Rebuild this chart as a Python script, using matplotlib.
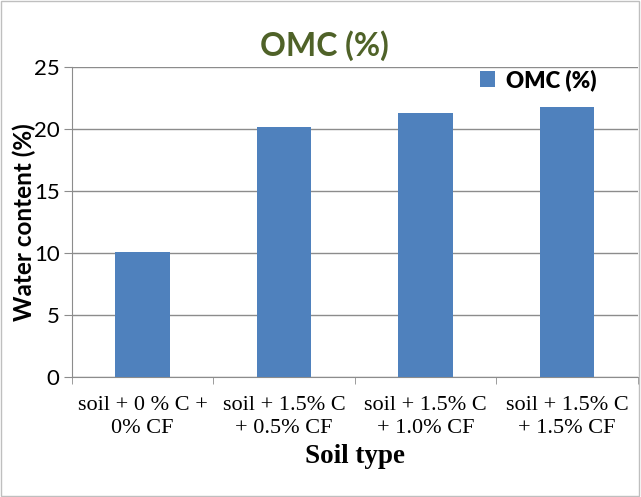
import matplotlib
matplotlib.use("Agg")
import matplotlib.pyplot as plt
from matplotlib.patches import Rectangle

CATEGORIES = [
    "soil + 0 % C +\n0% CF",
    "soil + 1.5% C\n+ 0.5% CF",
    "soil + 1.5% C\n+ 1.0% CF",
    "soil + 1.5% C\n+ 1.5% CF",
]
OMC = [10.1, 20.2, 21.3, 21.8]
Y_TICKS = [0, 5, 10, 15, 20, 25]

BAR_COLOR = "#4F81BD"
GRID_COLOR = "#8C8C8C"
TITLE_COLOR = "#4F6228"

fig = plt.figure(figsize=(6.41, 4.97), dpi=100)
fig.patches.append(Rectangle((0.002, 0.002), 0.995, 0.995, transform=fig.transFigure,
                             fill=False, edgecolor="#BFBFBF", linewidth=1.0))
ax = fig.add_axes([0.1123, 0.2414, 0.883, 0.6238])

x = range(len(CATEGORIES))
ax.bar(x, OMC, width=0.385, color=BAR_COLOR, label="OMC (%)", zorder=3)

ax.set_xlim(-0.5, len(CATEGORIES) - 0.5)
ax.set_ylim(0, 25)
ax.set_yticks(Y_TICKS)
ax.set_yticklabels([str(t) for t in Y_TICKS], fontfamily="Lato", fontsize=16)
ax.set_xticks(list(x))
ax.set_xticklabels(CATEGORIES, fontfamily="Liberation Serif", fontsize=16, linespacing=1.25)
ax.tick_params(axis="x", length=0, pad=14)
ax.set_xticks([i - 0.5 for i in range(len(CATEGORIES) + 1)], minor=True)
ax.tick_params(axis="x", which="minor", length=5, color=GRID_COLOR)
ax.tick_params(axis="y", length=6, color=GRID_COLOR, pad=3)

ax.grid(axis="y", color=GRID_COLOR, linewidth=1.0, zorder=0)
for side in ("top", "right"):
    ax.spines[side].set_visible(False)
for side in ("left", "bottom"):
    ax.spines[side].set_color(GRID_COLOR)

ax.set_ylabel("Water content (%)", fontfamily="Lato", fontweight="bold", fontsize=17.5, labelpad=-2)
ax.set_xlabel("Soil type", fontfamily="Liberation Serif", fontweight="bold", fontsize=19.5, labelpad=4)
fig.text(0.506, 0.909, "OMC (%)", ha="center", va="center", fontfamily="Lato",
         fontweight="bold", fontsize=23, color=TITLE_COLOR)

leg = ax.legend(loc="center right", bbox_to_anchor=(0.927, 0.958), frameon=False,
                borderaxespad=0, borderpad=0, fontsize=16,
                handlelength=0.7, handleheight=0.7, handletextpad=0.5)
for t in leg.get_texts():
    t.set_fontfamily("Lato")
    t.set_fontweight("heavy")
    t.set_fontsize(16)

fig.savefig("out.png", dpi=100)
